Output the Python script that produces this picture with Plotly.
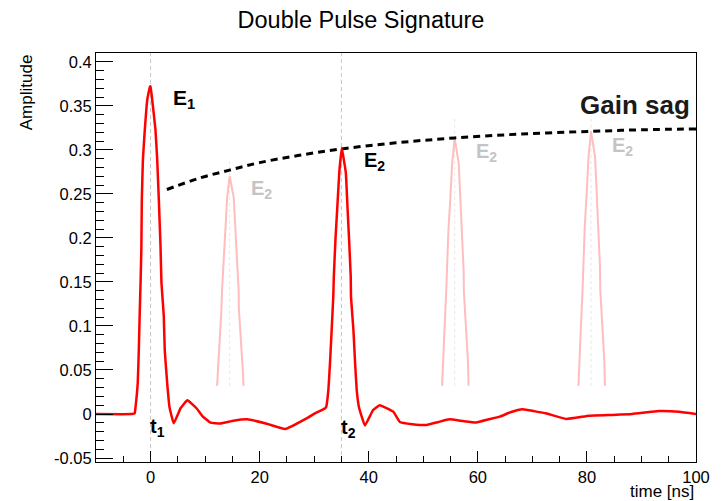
import plotly.graph_objects as go

# ---------------- data ----------------
# main (red) waveform: time [ns], amplitude
wave_t = [-10, -3.4, -2.9, -2.75, -2.35, -2.15, -2.0, -1.83, -1.68, -1.6, -1.4, -1.05, -0.6, -0.1, 0.0,
          0.3, 0.9, 1.22, 1.52, 1.83, 2.0, 2.43, 2.6, 3.05, 3.47, 4.25, 5.5, 6.75, 8.5, 9.6,
          11.0, 12.8, 15.2, 17.7, 21.3, 24.7, 28.6, 30.2, 31.4, 32.0, 32.2, 32.6, 32.9, 33.2,
          33.5, 33.6, 33.9, 34.25, 34.6, 35.05, 35.8, 36.1, 36.4, 36.7, 36.75, 37.2, 37.5,
          37.8, 38.2, 39.3, 40.8, 42.0, 44.5, 45.7, 48.0, 50.6, 52.8, 54.8, 57.3, 59.7, 62.0,
          64.0, 66.0, 68.2, 70.5, 72.5, 76.2, 80.4, 84.7, 88.3, 93.2, 96.9, 100]
wave_a = [0, 0, 0.001, 0.008, 0.035, 0.073, 0.111, 0.149, 0.19, 0.243, 0.289, 0.323, 0.357, 0.372, 0.372,
          0.357, 0.323, 0.289, 0.243, 0.19, 0.149, 0.111, 0.073, 0.035, 0.008, -0.0106, 0.0065,
          0.0155, 0.006, -0.003, -0.0098, -0.0108, -0.0076, -0.006, -0.011, -0.017, -0.005,
          0.001, 0.0045, 0.0065, 0.008, 0.027, 0.058, 0.095, 0.133, 0.156, 0.198, 0.236, 0.274,
          0.302, 0.274, 0.236, 0.198, 0.156, 0.133, 0.095, 0.058, 0.027, 0.008, -0.013, 0.0045,
          0.010, 0.0027, -0.009, -0.0115, -0.0125, -0.009, -0.006, -0.008, -0.0095, -0.006,
          -0.003, 0.002, 0.0053, 0.003, 0.0008, -0.0057, -0.002, -0.001, 0.0, 0.0034, 0.0026, 0.0]

# ghost (faded) second pulses
ghost1_t = [12.2, 12.4, 12.7, 13.0, 13.1, 13.4, 13.7, 14.05, 14.5, 15.25, 15.55, 15.85, 16.15, 16.2, 16.6, 16.9, 17.05]
ghost1_a = [0.032, 0.051, 0.084, 0.119, 0.140, 0.178, 0.211, 0.246, 0.270, 0.246, 0.211, 0.178, 0.140, 0.119, 0.084, 0.051, 0.032]
ghost2_t = [53.45, 53.6, 53.9, 54.2, 54.3, 54.6, 54.95, 55.3, 55.75, 56.5, 56.8, 57.1, 57.4, 57.45, 57.9, 58.2, 58.3]
ghost2_a = [0.032, 0.059, 0.097, 0.138, 0.163, 0.207, 0.244, 0.285, 0.313, 0.285, 0.244, 0.207, 0.163, 0.138, 0.097, 0.059, 0.032]
ghost3_t = [78.45, 78.6, 78.9, 79.2, 79.3, 79.6, 79.95, 80.3, 80.75, 81.5, 81.8, 82.1, 82.4, 82.45, 82.9, 83.2, 83.3]
ghost3_a = [0.032, 0.060, 0.099, 0.141, 0.167, 0.212, 0.250, 0.292, 0.321, 0.292, 0.250, 0.212, 0.167, 0.141, 0.099, 0.060, 0.032]
ghost_centers = [14.5, 55.75, 80.75]
ghost_tops = [0.289, 0.336, 0.336]

# gain-sag envelope
sag_t = [3, 9, 14.5, 20, 27, 35, 45, 55.75, 68, 80.75, 90, 100]
sag_a = [0.255, 0.268, 0.277, 0.2855, 0.2935, 0.301, 0.308, 0.3135, 0.318, 0.321, 0.3228, 0.3238]

pulse_times = [0, 35]

y_ticks = [-0.05, 0, 0.05, 0.1, 0.15, 0.2, 0.25, 0.3, 0.35, 0.4]
y_tick_text = ["-0.05", "0", "0.05", "0.1", "0.15", "0.2", "0.25", "0.3", "0.35", "0.4"]
x_ticks = [0, 20, 40, 60, 80, 100]
x_tick_text = ["0", "20", "40", "60", "80", "100"]

FONT = "Liberation Sans, Arial, Helvetica, sans-serif"

fig = go.Figure()

# ghost pulses
for gt, ga in [(ghost1_t, ghost1_a), (ghost2_t, ghost2_a), (ghost3_t, ghost3_a)]:
    fig.add_trace(go.Scatter(x=gt, y=ga, mode="lines", line=dict(color="#ffbdbd", width=2),
                             hoverinfo="skip", showlegend=False))

# gain sag
fig.add_trace(go.Scatter(x=sag_t, y=sag_a, mode="lines", line=dict(color="black", width=3, dash="7px,5px", shape="spline"),
                         showlegend=False))

# main waveform
fig.add_trace(go.Scatter(x=wave_t, y=wave_a, mode="lines",
                         line=dict(color="#ff0000", width=2.5, shape="spline", smoothing=0.3),
                         showlegend=False))

shapes = []
for t in pulse_times:
    shapes.append(dict(type="line", xref="x", yref="paper", x0=t, x1=t, y0=0, y1=1,
                       line=dict(color="#c8c8c8", width=1, dash="4px,3px"), layer="below"))
for c, top in zip(ghost_centers, ghost_tops):
    shapes.append(dict(type="line", xref="x", yref="y", x0=c, x1=c, y0=0.032, y1=top,
                       line=dict(color="#eee4e4", width=1, dash="3px,3px"), layer="below"))

annotations = [
    dict(text="<b>E<sub>1</sub></b>", x=3.8, y=0.358, xanchor="left", yanchor="middle",
         font=dict(size=21, color="black", family=FONT)),
    dict(text="<b>E<sub>2</sub></b>", x=38.8, y=0.287, xanchor="left", yanchor="middle",
         font=dict(size=20, color="black", family=FONT)),
    dict(text="<b>E<sub>2</sub></b>", x=18.1, y=0.255, xanchor="left", yanchor="middle",
         font=dict(size=20, color="#c4c4c4", family=FONT)),
    dict(text="<b>E<sub>2</sub></b>", x=59.3, y=0.297, xanchor="left", yanchor="middle",
         font=dict(size=20, color="#c4c4c4", family=FONT)),
    dict(text="<b>E<sub>2</sub></b>", x=84.2, y=0.304, xanchor="left", yanchor="middle",
         font=dict(size=20, color="#c4c4c4", family=FONT)),
    dict(text="<b>Gain sag</b>", x=99.3, y=0.351, xanchor="right", yanchor="middle",
         font=dict(size=26, color="#1a1a1a", family=FONT)),
    dict(text="<b>t<sub>1</sub></b>", x=-0.4, y=-0.015, xanchor="left", yanchor="middle",
         font=dict(size=20, color="black", family=FONT)),
    dict(text="<b>t<sub>2</sub></b>", x=34.6, y=-0.016, xanchor="left", yanchor="middle",
         font=dict(size=20, color="black", family=FONT)),
    dict(text="Amplitude", xref="paper", yref="paper", x=-0.116, y=0.905, textangle=-90,
         xanchor="center", yanchor="middle", showarrow=False,
         font=dict(size=17, color="black", family=FONT)),
    dict(text="time [ns]", xref="paper", yref="paper", x=1.0, y=-0.072,
         xanchor="right", yanchor="middle", showarrow=False,
         font=dict(size=17, color="black", family=FONT)),
]
for a in annotations:
    a.setdefault("xref", "x")
    a.setdefault("yref", "y")
    a.setdefault("showarrow", False)

fig.update_layout(
    width=722, height=501,
    margin=dict(l=96, r=24, t=53, b=39),
    paper_bgcolor="white", plot_bgcolor="white",
    font=dict(family=FONT, color="black"),
    title=dict(text="Double Pulse Signature", x=0.5, xref="container", y=1 - 20 / 501, yref="container",
               xanchor="center", yanchor="middle", font=dict(size=23.5, color="black", family=FONT)),
    shapes=shapes,
    annotations=annotations,
    showlegend=False,
)

fig.update_xaxes(range=[-10, 100], showgrid=False, zeroline=False, showline=True, linecolor="black",
                 linewidth=1, mirror=True, ticks="inside", ticklen=11, tickwidth=1, tickcolor="black",
                 tickvals=x_ticks, ticktext=x_tick_text, tickfont=dict(size=16.5, family=FONT, color="black"),
                 minor=dict(ticks="inside", ticklen=6, dtick=5, tick0=0, tickcolor="black", showgrid=False))
fig.update_yaxes(range=[-0.0545, 0.41], showgrid=False, zeroline=False, showline=True, linecolor="black",
                 linewidth=1, mirror=True, ticks="inside", ticklen=17, tickwidth=1, tickcolor="black",
                 tickvals=y_ticks, ticktext=y_tick_text, tickfont=dict(size=16.5, family=FONT, color="black"),
                 minor=dict(ticks="inside", ticklen=8, dtick=0.01, tick0=0, tickcolor="black", showgrid=False))

fig.write_html("out.html", config={"displayModeBar": False},
               post_script="document.body.style.margin='0';document.body.style.padding='0';")
